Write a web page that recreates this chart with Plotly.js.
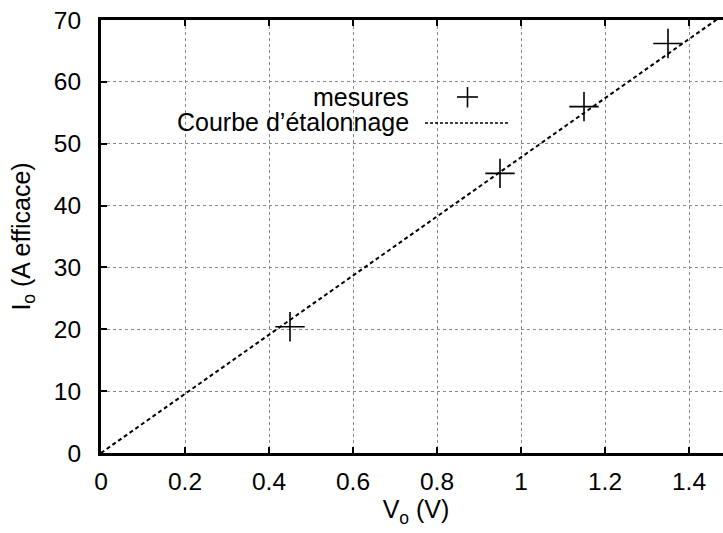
<!DOCTYPE html>
<html><head><meta charset="utf-8">
<script src="https://cdn.plot.ly/plotly-3.0.1.min.js"></script>
<style>html,body{margin:0;padding:0;overflow:hidden;background:#fff;}#c{width:735px;height:533px;}</style>
</head><body><div id="c"></div>
<script>
// measured points
const V0 = [0.45, 0.95, 1.15, 1.35];
const I0 = [20.4, 45.2, 56.0, 66.2];
// calibration curve (straight line through origin)
const fitV = [0, 1.5];
const fitI = [0, 71.7];
const xTicks = [0, 0.2, 0.4, 0.6, 0.8, 1, 1.2, 1.4];
const xTickText = ['0', '0.2', '0.4', '0.6', '0.8', '1', '1.2', '1.4'];
const yTicks = [0, 10, 20, 30, 40, 50, 60, 70];
const legendNames = ['mesures', 'Courbe d’étalonnage'];

const L = 101, T = 20, PW = 630, PH = 433;
const px = x => (x - L) / PW;
const py = y => (T + PH - y) / PH;
const FONT = 'Liberation Sans, Arial, sans-serif';
const TICKSIZE = 24.5, TXTSIZE = 25;

const traces = [
  {x: fitV, y: fitI, mode: 'lines', name: legendNames[1], showlegend: false,
   line: {color: '#000', width: 2, dash: '4px,3px'}, cliponaxis: true},
  {x: V0, y: I0, mode: 'markers', name: legendNames[0], showlegend: false,
   marker: {symbol: 'cross-thin-open', size: 21, color: '#000', line: {color: '#000', width: 1.6}}}
];

const axisCommon = {
  showline: true, linecolor: '#000', linewidth: 3, mirror: 'ticks',
  ticks: 'inside', ticklen: 6, tickwidth: 2, tickcolor: '#000',
  showgrid: true, gridcolor: '#888', griddash: 'dot', gridwidth: 1,
  zeroline: false, tickfont: {family: FONT, size: TICKSIZE, color: '#000'}
};

const layout = {
  width: 735, height: 533,
  margin: {l: L, r: 735 - L - PW, t: T, b: 533 - T - PH},
  paper_bgcolor: '#fff', plot_bgcolor: '#fff',
  showlegend: false,
  xaxis: Object.assign({}, axisCommon, {
    range: [0, 1.5], tickvals: xTicks, ticktext: xTickText, ticklabelstandoff: 5,
    title: {text: 'V<sub>o</sub> (V)', font: {family: FONT, size: TXTSIZE, color: '#000'}, standoff: 6}
  }),
  yaxis: Object.assign({}, axisCommon, {
    range: [0, 70], tickvals: yTicks, ticklabelstandoff: 12,
    title: {text: 'I<sub>o</sub> (A efficace)', font: {family: FONT, size: TXTSIZE, color: '#000'}, standoff: 17}
  }),
  annotations: [
    {xref: 'paper', yref: 'paper', x: px(411), y: py(97), xanchor: 'right', yanchor: 'middle',
     text: legendNames[0], showarrow: false, font: {family: FONT, size: TXTSIZE, color: '#000'}},
    {xref: 'paper', yref: 'paper', x: px(411), y: py(122), xanchor: 'right', yanchor: 'middle',
     text: legendNames[1], showarrow: false, font: {family: FONT, size: TXTSIZE, color: '#000'}}
  ],
  shapes: [
    {type: 'line', xref: 'paper', yref: 'paper', x0: px(457), x1: px(478), y0: py(97), y1: py(97), line: {color: '#000', width: 1.6}},
    {type: 'line', xref: 'paper', yref: 'paper', x0: px(467.5), x1: px(467.5), y0: py(87), y1: py(107.5), line: {color: '#000', width: 1.6}},
    {type: 'line', xref: 'paper', yref: 'paper', x0: px(425), x1: px(508), y0: py(123), y1: py(123), line: {color: '#000', width: 1.5, dash: '3px,2px'}}
  ]
};

Plotly.newPlot('c', traces, layout, {displayModeBar: false, staticPlot: true});
</script></body></html>
